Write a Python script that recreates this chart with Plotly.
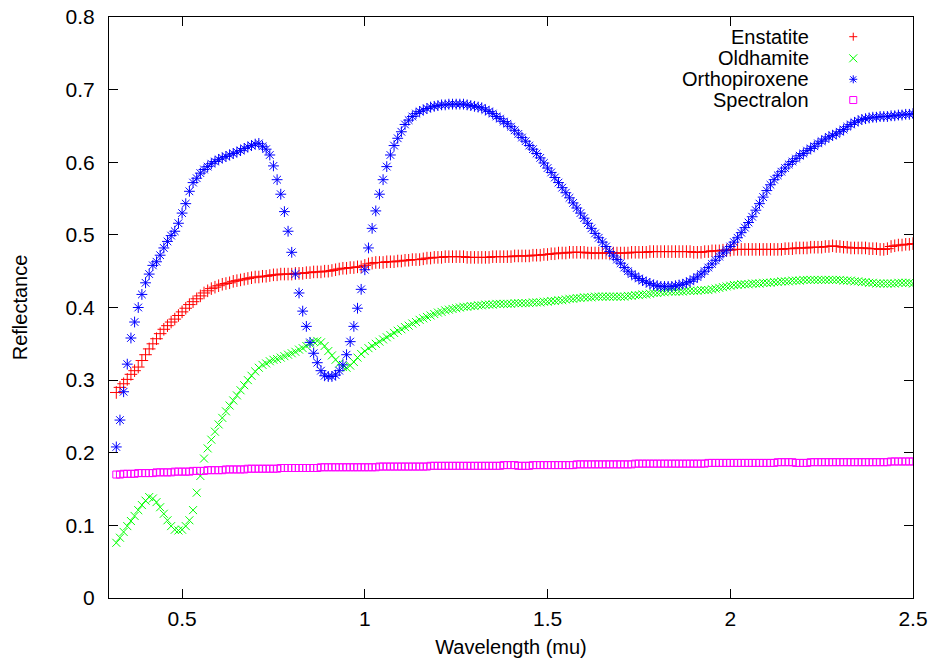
import plotly.graph_objects as go

# Wavelength grid (microns)
wavelength = [
    0.32, 0.33, 0.34, 0.35, 0.36, 0.37, 0.38, 0.39,
    0.40, 0.41, 0.42, 0.43, 0.44, 0.45, 0.46, 0.47, 0.48, 0.49,
    0.50, 0.51, 0.52, 0.53, 0.54, 0.55, 0.56, 0.57, 0.58, 0.59,
    0.60, 0.61, 0.62, 0.63, 0.64, 0.65, 0.66, 0.67, 0.68, 0.69,
    0.70, 0.71, 0.72, 0.73, 0.74, 0.75, 0.76, 0.77, 0.78, 0.79,
    0.80, 0.81, 0.82, 0.83, 0.84, 0.85, 0.86, 0.87, 0.88, 0.89,
    0.90, 0.91, 0.92, 0.93, 0.94, 0.95, 0.96, 0.97, 0.98, 0.99,
    1.00, 1.01, 1.02, 1.03, 1.04, 1.05, 1.06, 1.07, 1.08, 1.09,
    1.10, 1.11, 1.12, 1.13, 1.14, 1.15, 1.16, 1.17, 1.18, 1.19,
    1.20, 1.21, 1.22, 1.23, 1.24, 1.25, 1.26, 1.27, 1.28, 1.29,
    1.30, 1.31, 1.32, 1.33, 1.34, 1.35, 1.36, 1.37, 1.38, 1.39,
    1.40, 1.41, 1.42, 1.43, 1.44, 1.45, 1.46, 1.47, 1.48, 1.49,
    1.50, 1.51, 1.52, 1.53, 1.54, 1.55, 1.56, 1.57, 1.58, 1.59,
    1.60, 1.61, 1.62, 1.63, 1.64, 1.65, 1.66, 1.67, 1.68, 1.69,
    1.70, 1.71, 1.72, 1.73, 1.74, 1.75, 1.76, 1.77, 1.78, 1.79,
    1.80, 1.81, 1.82, 1.83, 1.84, 1.85, 1.86, 1.87, 1.88, 1.89,
    1.90, 1.91, 1.92, 1.93, 1.94, 1.95, 1.96, 1.97, 1.98, 1.99,
    2.00, 2.01, 2.02, 2.03, 2.04, 2.05, 2.06, 2.07, 2.08, 2.09,
    2.10, 2.11, 2.12, 2.13, 2.14, 2.15, 2.16, 2.17, 2.18, 2.19,
    2.20, 2.21, 2.22, 2.23, 2.24, 2.25, 2.26, 2.27, 2.28, 2.29,
    2.30, 2.31, 2.32, 2.33, 2.34, 2.35, 2.36, 2.37, 2.38, 2.39,
    2.40, 2.41, 2.42, 2.43, 2.44, 2.45, 2.46, 2.47, 2.48, 2.49,
    2.50,
]

enstatite = [
    0.283, 0.290, 0.295, 0.301, 0.308, 0.313, 0.318, 0.327,
    0.335, 0.343, 0.350, 0.357, 0.364, 0.370, 0.375, 0.380, 0.384, 0.389,
    0.394, 0.399, 0.404, 0.408, 0.412, 0.416, 0.420, 0.423, 0.426, 0.428,
    0.430, 0.432, 0.433, 0.434, 0.436, 0.437, 0.438, 0.439, 0.440, 0.441,
    0.442, 0.442, 0.443, 0.443, 0.444, 0.445, 0.445, 0.446, 0.446, 0.446,
    0.446, 0.447, 0.447, 0.447, 0.448, 0.448, 0.449, 0.449, 0.449, 0.450,
    0.450, 0.451, 0.452, 0.453, 0.454, 0.454, 0.455, 0.455, 0.456, 0.456,
    0.458, 0.460, 0.461, 0.462, 0.462, 0.462, 0.463, 0.463, 0.463, 0.464,
    0.464, 0.465, 0.465, 0.466, 0.466, 0.466, 0.467, 0.468, 0.468, 0.469,
    0.469, 0.469, 0.470, 0.470, 0.470, 0.470, 0.470, 0.470, 0.469, 0.469,
    0.469, 0.469, 0.469, 0.469, 0.469, 0.470, 0.470, 0.470, 0.470, 0.470,
    0.470, 0.471, 0.471, 0.471, 0.471, 0.471, 0.472, 0.472, 0.472, 0.473,
    0.473, 0.474, 0.474, 0.475, 0.475, 0.475, 0.476, 0.476, 0.476, 0.476,
    0.476, 0.475, 0.475, 0.475, 0.475, 0.475, 0.475, 0.475, 0.475, 0.475,
    0.475, 0.475, 0.475, 0.476, 0.476, 0.476, 0.476, 0.476, 0.477, 0.477,
    0.477, 0.477, 0.477, 0.477, 0.477, 0.477, 0.477, 0.477, 0.477, 0.477,
    0.476, 0.476, 0.476, 0.477, 0.477, 0.478, 0.478, 0.478, 0.479, 0.479,
    0.479, 0.480, 0.480, 0.480, 0.480, 0.480, 0.480, 0.480, 0.480, 0.480,
    0.480, 0.480, 0.480, 0.480, 0.480, 0.481, 0.481, 0.481, 0.482, 0.482,
    0.482, 0.482, 0.483, 0.483, 0.483, 0.483, 0.484, 0.484, 0.485, 0.484,
    0.484, 0.483, 0.483, 0.482, 0.482, 0.482, 0.482, 0.482, 0.481, 0.481,
    0.481, 0.480, 0.480, 0.481, 0.484, 0.485, 0.486, 0.486, 0.487, 0.487,
    0.488,
]

oldhamite = [
    0.076, 0.083, 0.091, 0.099, 0.106, 0.113, 0.121, 0.128,
    0.134, 0.139, 0.137, 0.132, 0.125, 0.116, 0.107, 0.099, 0.094, 0.093,
    0.094, 0.099, 0.107, 0.121, 0.145, 0.168, 0.192, 0.206, 0.218, 0.229,
    0.239, 0.248, 0.257, 0.265, 0.272, 0.279, 0.286, 0.293, 0.300, 0.306,
    0.312, 0.317, 0.321, 0.323, 0.326, 0.328, 0.329, 0.331, 0.333, 0.335,
    0.337, 0.339, 0.342, 0.344, 0.347, 0.350, 0.353, 0.354, 0.352, 0.347,
    0.340, 0.334, 0.328, 0.323, 0.318, 0.317, 0.320, 0.325, 0.331, 0.336,
    0.340, 0.344, 0.347, 0.350, 0.353, 0.356, 0.359, 0.362, 0.365, 0.368,
    0.370, 0.373, 0.375, 0.378, 0.380, 0.383, 0.385, 0.387, 0.389, 0.391,
    0.393, 0.394, 0.396, 0.397, 0.398, 0.399, 0.400, 0.401, 0.401, 0.402,
    0.402, 0.403, 0.403, 0.404, 0.404, 0.404, 0.405, 0.405, 0.405, 0.405,
    0.405, 0.406, 0.406, 0.406, 0.406, 0.406, 0.407, 0.407, 0.407, 0.408,
    0.408, 0.409, 0.409, 0.410, 0.410, 0.411, 0.412, 0.412, 0.413, 0.413,
    0.414, 0.414, 0.414, 0.415, 0.415, 0.415, 0.415, 0.415, 0.415, 0.415,
    0.415, 0.415, 0.416, 0.416, 0.417, 0.417, 0.418, 0.418, 0.419, 0.420,
    0.420, 0.421, 0.421, 0.422, 0.422, 0.422, 0.422, 0.422, 0.423, 0.423,
    0.423, 0.423, 0.424, 0.424, 0.424, 0.425, 0.426, 0.427, 0.428, 0.429,
    0.430, 0.431, 0.431, 0.432, 0.432, 0.432, 0.433, 0.433, 0.433, 0.434,
    0.434, 0.434, 0.435, 0.435, 0.436, 0.436, 0.436, 0.437, 0.437, 0.437,
    0.438, 0.438, 0.438, 0.438, 0.438, 0.438, 0.438, 0.438, 0.438, 0.438,
    0.438, 0.437, 0.437, 0.437, 0.436, 0.436, 0.435, 0.435, 0.434, 0.434,
    0.433, 0.433, 0.433, 0.433, 0.433, 0.433, 0.434, 0.434, 0.434, 0.434,
    0.433,
]

orthopiroxene = [
    0.208, 0.245, 0.284, 0.322, 0.358, 0.380, 0.400, 0.418,
    0.434, 0.446, 0.458, 0.463, 0.472, 0.482, 0.491, 0.499, 0.505, 0.516,
    0.530, 0.543, 0.560, 0.572, 0.578, 0.585, 0.590, 0.594, 0.598, 0.601,
    0.604, 0.606, 0.608, 0.610, 0.612, 0.614, 0.616, 0.619, 0.621, 0.623,
    0.625, 0.626, 0.622, 0.618, 0.610, 0.595, 0.576, 0.556, 0.532, 0.505,
    0.476, 0.446, 0.420, 0.395, 0.374, 0.352, 0.337, 0.324, 0.313, 0.306,
    0.305, 0.305, 0.307, 0.313, 0.321, 0.335, 0.353, 0.374, 0.399, 0.425,
    0.452, 0.482, 0.509, 0.533, 0.556, 0.576, 0.594, 0.610, 0.623, 0.633,
    0.642, 0.652, 0.658, 0.663, 0.667, 0.670, 0.672, 0.674, 0.676, 0.677,
    0.678, 0.679, 0.679, 0.680, 0.680, 0.680, 0.680, 0.680, 0.679, 0.678,
    0.677, 0.676, 0.675, 0.672, 0.670, 0.667, 0.663, 0.660, 0.656, 0.653,
    0.649, 0.644, 0.639, 0.634, 0.629, 0.623, 0.618, 0.612, 0.606, 0.599,
    0.592, 0.586, 0.579, 0.572, 0.565, 0.558, 0.551, 0.544, 0.537, 0.530,
    0.523, 0.516, 0.509, 0.502, 0.496, 0.490, 0.484, 0.477, 0.471, 0.466,
    0.461, 0.455, 0.450, 0.446, 0.443, 0.440, 0.437, 0.435, 0.433, 0.431,
    0.430, 0.429, 0.429, 0.429, 0.429, 0.430, 0.431, 0.432, 0.434, 0.436,
    0.439, 0.442, 0.446, 0.450, 0.455, 0.460, 0.465, 0.470, 0.475, 0.479,
    0.484, 0.490, 0.496, 0.503, 0.510, 0.517, 0.525, 0.534, 0.543, 0.552,
    0.561, 0.569, 0.576, 0.582, 0.587, 0.592, 0.597, 0.601, 0.605, 0.609,
    0.612, 0.616, 0.619, 0.622, 0.626, 0.629, 0.632, 0.635, 0.637, 0.639,
    0.642, 0.645, 0.649, 0.652, 0.655, 0.657, 0.659, 0.660, 0.661, 0.662,
    0.662, 0.663, 0.663, 0.663, 0.664, 0.664, 0.665, 0.665, 0.666, 0.666,
    0.667,
]

spectralon = [
    0.170, 0.170, 0.171, 0.171, 0.171, 0.171, 0.172, 0.172,
    0.172, 0.172, 0.172, 0.173, 0.173, 0.173, 0.173, 0.173, 0.174, 0.174,
    0.174, 0.174, 0.174, 0.175, 0.175, 0.175, 0.175, 0.176, 0.176, 0.176,
    0.176, 0.176, 0.177, 0.177, 0.177, 0.177, 0.177, 0.177, 0.178, 0.178,
    0.178, 0.178, 0.178, 0.178, 0.178, 0.178, 0.178, 0.179, 0.179, 0.179,
    0.179, 0.179, 0.179, 0.179, 0.179, 0.179, 0.179, 0.179, 0.180, 0.180,
    0.180, 0.180, 0.180, 0.180, 0.180, 0.180, 0.180, 0.180, 0.180, 0.180,
    0.180, 0.180, 0.180, 0.180, 0.181, 0.181, 0.181, 0.181, 0.181, 0.181,
    0.181, 0.181, 0.181, 0.181, 0.181, 0.181, 0.181, 0.181, 0.182, 0.182,
    0.182, 0.182, 0.182, 0.182, 0.182, 0.182, 0.182, 0.182, 0.182, 0.182,
    0.182, 0.182, 0.182, 0.182, 0.182, 0.182, 0.182, 0.182, 0.183, 0.183,
    0.183, 0.183, 0.182, 0.182, 0.182, 0.182, 0.183, 0.183, 0.183, 0.183,
    0.183, 0.183, 0.183, 0.183, 0.183, 0.183, 0.183, 0.183, 0.184, 0.184,
    0.184, 0.184, 0.184, 0.184, 0.184, 0.184, 0.184, 0.184, 0.184, 0.184,
    0.184, 0.184, 0.184, 0.184, 0.185, 0.185, 0.185, 0.185, 0.185, 0.185,
    0.185, 0.185, 0.185, 0.185, 0.185, 0.185, 0.185, 0.185, 0.185, 0.185,
    0.185, 0.185, 0.185, 0.185, 0.186, 0.186, 0.186, 0.186, 0.186, 0.186,
    0.186, 0.186, 0.186, 0.186, 0.186, 0.186, 0.186, 0.186, 0.186, 0.186,
    0.186, 0.186, 0.186, 0.187, 0.187, 0.187, 0.187, 0.187, 0.186, 0.186,
    0.186, 0.186, 0.187, 0.187, 0.187, 0.187, 0.187, 0.187, 0.187, 0.187,
    0.187, 0.187, 0.187, 0.187, 0.187, 0.187, 0.187, 0.187, 0.187, 0.187,
    0.187, 0.187, 0.187, 0.187, 0.188, 0.188, 0.188, 0.188, 0.188, 0.188,
    0.188,
]

series_names = ["Enstatite", "Oldhamite", "Orthopiroxene", "Spectralon"]
x_tick_vals = [0.5, 1, 1.5, 2, 2.5]
x_tick_text = ["0.5", "1", "1.5", "2", "2.5"]
y_tick_vals = [0, 0.1, 0.2, 0.3, 0.4, 0.5, 0.6, 0.7, 0.8]
y_tick_text = ["0", "0.1", "0.2", "0.3", "0.4", "0.5", "0.6", "0.7", "0.8"]

FONT = "Liberation Sans, Arial, Helvetica, sans-serif"
colors = ["#ff0000", "#00ff00", "#0000ff", "#ff00ff"]
symbols = ["cross-thin-open", "x-thin-open", "asterisk-open", "square-open"]
sizes = [9, 8, 9, 7]
values = [enstatite, oldhamite, orthopiroxene, spectralon]

fig = go.Figure()
for name, ys, c, s, sz in zip(series_names, values, colors, symbols, sizes):
    fig.add_trace(go.Scatter(
        x=wavelength, y=ys, mode="markers", name=name, showlegend=False,
        marker=dict(symbol=s, size=sz, color=c, line=dict(color=c, width=1)),
    ))

# gnuplot-style key: right-aligned labels with a sample symbol to their right
key_rows_y = [0.9661, 0.9289, 0.8928, 0.8571]
key_text_x = 0.8735
key_mark_x = 0.9257
key_paths = [
    "M-4,0H4M0,-4V4",
    "M-4,-4L4,4M-4,4L4,-4",
    "M-4,0H4M0,-4V4M-3,-3L3,3M-3,3L3,-3",
    "M-3.5,-3.5H3.5V3.5H-3.5Z",
]
for name, ky, c, p in zip(series_names, key_rows_y, colors, key_paths):
    fig.add_annotation(x=key_text_x, y=ky, xref="paper", yref="paper",
                       text=name, showarrow=False, xanchor="right", yanchor="middle",
                       font=dict(family=FONT, size=20, color="black"))
    fig.add_shape(type="path", xref="paper", yref="paper",
                  xsizemode="pixel", ysizemode="pixel",
                  xanchor=key_mark_x, yanchor=ky, path=p,
                  line=dict(color=c, width=1))

axis_common = dict(
    showline=True, linecolor="black", linewidth=1, mirror="allticks",
    ticks="inside", ticklen=9, tickwidth=1, tickcolor="black",
    showgrid=False, zeroline=False, automargin=False,
    ticklabeloverflow="allow",
    tickfont=dict(family=FONT, size=21, color="black"),
)

fig.update_layout(
    width=930, height=664,
    margin=dict(l=109, r=17, t=17, b=66, autoexpand=False),
    paper_bgcolor="white", plot_bgcolor="white",
    font=dict(family=FONT, size=20, color="black"),
    xaxis=dict(range=[0.3, 2.5], tickvals=x_tick_vals, ticktext=x_tick_text,
               ticklabelstandoff=2,
               title=dict(text="Wavelength (mu)", standoff=10,
                          font=dict(family=FONT, size=20, color="black")),
               **axis_common),
    yaxis=dict(range=[0, 0.8], tickvals=y_tick_vals, ticktext=y_tick_text,
               ticklabelstandoff=9,
               title=dict(text="Reflectance", standoff=32,
                          font=dict(family=FONT, size=20, color="black")),
               **axis_common),
)

# remove the default page margin so the figure fills the window exactly
fig.write_html("out.html",
               config={"displayModeBar": False},
               post_script="document.body.style.margin='0';document.body.style.overflow='hidden';")
